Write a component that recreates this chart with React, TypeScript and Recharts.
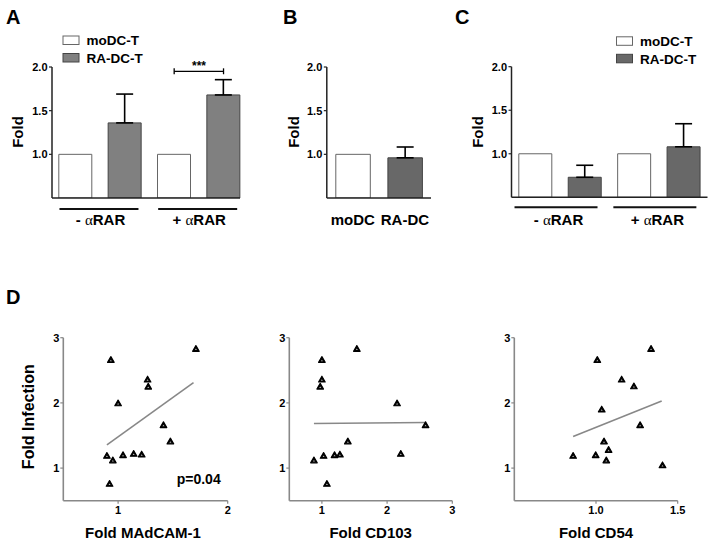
import React from 'react';
import {
  BarChart,
  Bar,
  XAxis,
  YAxis,
  Cell,
  ErrorBar,
  ReferenceLine,
  ScatterChart,
  Scatter,
} from 'recharts';

const FONT = '"Liberation Sans", Arial, Helvetica, sans-serif';
const SERIF = '"Liberation Serif", "Times New Roman", serif';

// ---------- Panel A ----------
const aCategories = ['moDC-T -αRAR', 'RA-DC-T -αRAR', 'moDC-T +αRAR', 'RA-DC-T +αRAR'];
const aValues = [1.0, 1.36, 1.0, 1.68];
const aErrors = [null, 0.33, null, 0.175];
const aGroups = ['- αRAR', '+ αRAR'];

// ---------- Panel B ----------
const bCategories = ['moDC', 'RA-DC'];
const bValues = [1.0, 0.96];
const bErrors = [null, 0.124];

// ---------- Panel C ----------
const cCategories = ['moDC-T -αRAR', 'RA-DC-T -αRAR', 'moDC-T +αRAR', 'RA-DC-T +αRAR'];
const cValues = [1.0, 0.73, 1.0, 1.08];
const cErrors = [null, 0.138, null, 0.265];
const cGroups = ['- αRAR', '+ αRAR'];

const foldTicks = [1.0, 1.5, 2.0];
const legendLabels = ['moDC-T', 'RA-DC-T'];

// ---------- Panel D ----------
const madcamX = [0.934, 1.71, 1.269, 1.275, 1.0, 1.414, 1.477, 0.898, 0.952, 1.045, 1.142, 1.215, 0.922];
const madcamY = [2.66, 2.83, 2.36, 2.25, 1.995, 1.66, 1.41, 1.19, 1.12, 1.2, 1.22, 1.21, 0.76];
const madcamFitX = [0.898, 1.688];
const madcamFitY = [1.357, 2.31];
const madcamTicks = [1, 2];

const cd103X = [1.536, 1.0, 1.0, 0.974, 2.153, 2.59, 1.398, 0.878, 1.026, 1.194, 1.276, 2.21, 1.077];
const cd103Y = [2.83, 2.66, 2.36, 2.25, 1.995, 1.66, 1.41, 1.12, 1.19, 1.2, 1.21, 1.22, 0.76];
const cd103FitX = [0.878, 2.59];
const cd103FitY = [1.684, 1.7];
const cd103Ticks = [1, 2, 3];

const cd54X = [1.337, 1.008, 1.157, 1.232, 1.035, 1.27, 1.049, 1.077, 0.998, 0.86, 1.063, 1.407];
const cd54Y = [2.83, 2.66, 2.36, 2.255, 1.9, 1.66, 1.41, 1.28, 1.2, 1.19, 1.12, 1.045];
const cd54FitX = [0.86, 1.402];
const cd54FitY = [1.485, 2.03];
const cd54Ticks = [1.0, 1.5];

const infectionTicks = [1, 2, 3];

type Rect = { x0: number; x1: number; y0: number; y1: number };

const YW = 40;
const XH = 40;

function marginsFor(left: number, top: number, width: number, height: number, plot: Rect) {
  return {
    left: plot.x0 - left - YW,
    right: left + width - plot.x1,
    top: plot.y0 - top,
    bottom: top + height - plot.y1 - XH,
  };
}

function buildBarData(cats: string[], vals: number[], errs: (number | null)[]) {
  return cats.map((name, i) => ({
    name,
    value: vals[i],
    err: errs[i] == null ? null : [0, errs[i] as number],
  }));
}

function alphaText(label: string) {
  const k = label.indexOf('α');
  return (
    <>
      <tspan>{label.slice(0, k)}</tspan>
      <tspan fontFamily={SERIF} fontWeight="normal">α</tspan>
      <tspan>{label.slice(k + 1)}</tspan>
    </>
  );
}

function makeGroupTick(labels: string[], l0: number, l1: number, ldy: number, tdx: number, tdy: number) {
  return (props: any) => {
    const { x, y } = props;
    const i = props.index ?? props.payload?.index ?? 0;
    if (i % 2 !== 0) return <g />;
    return (
      <g>
        <line x1={x + l0} x2={x + l1} y1={y + ldy} y2={y + ldy} stroke="#111" strokeWidth={2} />
        <text
          x={x + tdx}
          y={y + tdy}
          textAnchor="middle"
          fontSize={15}
          fontWeight="bold"
          fontFamily={FONT}
          fill="#000"
        >
          {alphaText(labels[i / 2])}
        </text>
      </g>
    );
  };
}

const plainTick = (props: any) => {
  const { x, y, payload } = props;
  return (
    <text x={x} y={y + 27} textAnchor="middle" fontSize={15} fontWeight="bold" fontFamily={FONT} fill="#000">
      {payload.value}
    </text>
  );
};

const tickStyle = { fontSize: 11, fontWeight: 'bold', fill: '#000', fontFamily: FONT };

type BarPanelProps = {
  left: number;
  top: number;
  width: number;
  height: number;
  plot: Rect;
  data: any[];
  fills: string[];
  strokes: string[];
  barSize: number;
  padding?: { left: number; right: number };
  tick: any;
  children?: React.ReactNode;
};

function BarPanel(p: BarPanelProps) {
  return (
    <div style={{ position: 'absolute', left: p.left, top: p.top }}>
      <BarChart width={p.width} height={p.height} data={p.data} margin={marginsFor(p.left, p.top, p.width, p.height, p.plot)}>
        <XAxis
          dataKey="name"
          height={XH}
          padding={p.padding ?? { left: 0, right: 0 }}
          tickLine={false}
          tickSize={0}
          tickMargin={0}
          axisLine={{ stroke: '#222', strokeWidth: 1.5 }}
          tick={p.tick}
          interval={0}
        />
        <YAxis
          width={YW}
          type="number"
          domain={[0.5, 2]}
          ticks={foldTicks}
          tickFormatter={(v: number) => v.toFixed(1)}
          tickSize={3}
          tickMargin={1.5}
          axisLine={{ stroke: '#222', strokeWidth: 1.5 }}
          tickLine={{ stroke: '#222', strokeWidth: 1.2 }}
          tick={tickStyle}
          allowDataOverflow
        />
        <Bar dataKey="value" barSize={p.barSize} isAnimationActive={false}>
          {p.data.map((_, i) => (
            <Cell key={i} fill={p.fills[i]} stroke={p.strokes[i]} strokeWidth={1} />
          ))}
          <ErrorBar dataKey="err" width={8.5} stroke="#000" strokeWidth={1.6} direction="y" />
        </Bar>
        {p.children}
      </BarChart>
    </div>
  );
}

const Triangle = (props: any) => {
  const { cx, cy } = props;
  if (cx == null || cy == null) return <g />;
  return (
    <g>
      <polygon
        points={`${cx},${cy - 3.2} ${cx - 3.3},${cy + 2.5} ${cx + 3.3},${cy + 2.5}`}
        fill="#000"
        stroke="#000"
        strokeWidth={1.2}
        strokeLinejoin="round"
      />
      <polygon
        points={`${cx},${cy - 0.2} ${cx - 1},${cy + 1.3} ${cx + 1},${cy + 1.3}`}
        fill="#bbb"
      />
    </g>
  );
};

type ScatterPanelProps = {
  left: number;
  top: number;
  width: number;
  height: number;
  plot: Rect;
  xs: number[];
  ys: number[];
  fitX: number[];
  fitY: number[];
  xDomain: [number, number];
  xTicks: number[];
  xFmt?: (v: number) => string;
};

function ScatterPanel(p: ScatterPanelProps) {
  const data = p.xs.map((x, i) => ({ x, y: p.ys[i] }));
  const axisStroke = { stroke: '#888', strokeWidth: 1.6 };
  return (
    <div style={{ position: 'absolute', left: p.left, top: p.top }}>
      <ScatterChart width={p.width} height={p.height} margin={marginsFor(p.left, p.top, p.width, p.height, p.plot)}>
        <XAxis
          type="number"
          dataKey="x"
          domain={p.xDomain}
          ticks={p.xTicks}
          tickFormatter={p.xFmt}
          height={XH}
          tickSize={3}
          tickMargin={2}
          axisLine={axisStroke}
          tickLine={{ stroke: '#888', strokeWidth: 1.2 }}
          tick={tickStyle}
          allowDataOverflow
        />
        <YAxis
          type="number"
          dataKey="y"
          width={YW}
          domain={[0.5, 3]}
          ticks={infectionTicks}
          tickSize={3}
          tickMargin={1}
          axisLine={axisStroke}
          tickLine={{ stroke: '#888', strokeWidth: 1.2 }}
          tick={tickStyle}
          allowDataOverflow
        />
        <ReferenceLine
          segment={[
            { x: p.fitX[0], y: p.fitY[0] },
            { x: p.fitX[1], y: p.fitY[1] },
          ]}
          stroke="#888"
          strokeWidth={1.6}
        />
        <Scatter data={data} shape={Triangle} isAnimationActive={false} />
      </ScatterChart>
    </div>
  );
}

function Legend({ x, y, fill, stroke }: { x: number; y: number; fill: string; stroke: string }) {
  return (
    <g fontFamily={FONT} fontWeight="bold" fontSize={13.5} fill="#000">
      <rect x={x} y={y} width={16} height={8.5} fill="#fff" stroke="#666" strokeWidth={1} />
      <text x={x + 23.5} y={y + 9.3}>
        {legendLabels[0]}
      </text>
      <rect x={x} y={y + 17.5} width={16} height={8.5} fill={fill} stroke={stroke} strokeWidth={1} />
      <text x={x + 23.5} y={y + 26.8}>
        {legendLabels[1]}
      </text>
    </g>
  );
}

function RotLabel({ cx, cy, size, text }: { cx: number; cy: number; size: number; text: string }) {
  return (
    <text
      x={cx}
      y={cy + size * 0.36}
      transform={`rotate(-90 ${cx} ${cy})`}
      textAnchor="middle"
      fontSize={size}
      fontWeight="bold"
      fontFamily={FONT}
      fill="#000"
    >
      {text}
    </text>
  );
}

export default function App() {
  const aData = buildBarData(aCategories, aValues, aErrors);
  const bData = buildBarData(bCategories, bValues, bErrors);
  const cData = buildBarData(cCategories, cValues, cErrors);
  const greyA = '#808080';
  const greyBC = '#686868';
  const whiteStroke = '#666';
  const greyStroke = '#444';

  return (
    <div style={{ position: 'absolute', left: 0, top: 0, width: 714, height: 544, background: '#fff', fontFamily: FONT }}>
      <BarPanel
        left={0}
        top={0}
        width={250}
        height={250}
        plot={{ x0: 52, x1: 240, y0: 67, y1: 198 }}
        data={aData}
        fills={['#fff', greyA, '#fff', greyA]}
        strokes={[whiteStroke, greyStroke, whiteStroke, greyStroke]}
        barSize={33}
        padding={{ left: -1.2, right: -8.2 }}
        tick={makeGroupTick(aGroups, -16, 63, 11, 25, 27)}
      >
        <ReferenceLine
          segment={[
            { x: aCategories[2], y: 1.951 },
            { x: aCategories[3], y: 1.951 },
          ]}
          stroke="#000"
          strokeWidth={1.3}
        />
        <ReferenceLine
          segment={[
            { x: aCategories[2], y: 1.985 },
            { x: aCategories[2], y: 1.917 },
          ]}
          stroke="#000"
          strokeWidth={1.3}
        />
        <ReferenceLine
          segment={[
            { x: aCategories[3], y: 1.985 },
            { x: aCategories[3], y: 1.917 },
          ]}
          stroke="#000"
          strokeWidth={1.3}
        />
      </BarPanel>

      <BarPanel
        left={240}
        top={0}
        width={200}
        height={250}
        plot={{ x0: 326.8, x1: 431, y0: 67, y1: 198 }}
        data={bData}
        fills={['#fff', greyBC]}
        strokes={[whiteStroke, greyStroke]}
        barSize={34.5}
        tick={plainTick}
      />

      <BarPanel
        left={460}
        top={0}
        width={254}
        height={250}
        plot={{ x0: 511.5, x1: 707.5, y0: 66.7, y1: 197.3 }}
        data={cData}
        fills={['#fff', greyBC, '#fff', greyBC]}
        strokes={[whiteStroke, greyStroke, whiteStroke, greyStroke]}
        barSize={33}
        padding={{ left: -0.7, right: -1 }}
        tick={makeGroupTick(cGroups, -21, 62, 10, 23, 27.5)}
      />

      <ScatterPanel
        left={0}
        top={300}
        width={240}
        height={244}
        plot={{ x0: 63.3, x1: 227.7, y0: 337.7, y1: 500.7 }}
        xs={madcamX}
        ys={madcamY}
        fitX={madcamFitX}
        fitY={madcamFitY}
        xDomain={[0.5, 2]}
        xTicks={madcamTicks}
      />
      <ScatterPanel
        left={240}
        top={300}
        width={230}
        height={244}
        plot={{ x0: 289.3, x1: 452.3, y0: 337.7, y1: 500.7 }}
        xs={cd103X}
        ys={cd103Y}
        fitX={cd103FitX}
        fitY={cd103FitY}
        xDomain={[0.5, 3]}
        xTicks={cd103Ticks}
      />
      <ScatterPanel
        left={470}
        top={300}
        width={244}
        height={244}
        plot={{ x0: 514.3, x1: 677.7, y0: 337.7, y1: 500.7 }}
        xs={cd54X}
        ys={cd54Y}
        fitX={cd54FitX}
        fitY={cd54FitY}
        xDomain={[0.5, 1.5]}
        xTicks={cd54Ticks}
        xFmt={(v: number) => v.toFixed(1)}
      />

      <svg
        width={714}
        height={544}
        style={{ position: 'absolute', left: 0, top: 0, pointerEvents: 'none' }}
      >
        <g fontFamily={FONT} fontWeight="bold" fontSize={20} fill="#000">
          <text x={6} y={23.5}>A</text>
          <text x={283} y={23.5}>B</text>
          <text x={455} y={23.5}>C</text>
          <text x={6} y={303.5}>D</text>
        </g>
        <Legend x={63} y={36} fill={greyA} stroke={greyStroke} />
        <Legend x={616.5} y={36.8} fill={greyBC} stroke={greyStroke} />
        <text x={199} y={70} textAnchor="middle" fontSize={12} fontWeight="bold" fontFamily={FONT} fill="#000">
          ***
        </text>
        <RotLabel cx={17.5} cy={132} size={15} text="Fold" />
        <RotLabel cx={293.5} cy={132} size={15} text="Fold" />
        <RotLabel cx={477.5} cy={132} size={15} text="Fold" />
        <RotLabel cx={28.3} cy={416.7} size={16} text="Fold Infection" />
        <g fontFamily={FONT} fontWeight="bold" fontSize={15} fill="#000" textAnchor="middle">
          <text x={143} y={537.5}>Fold MAdCAM-1</text>
          <text x={370.7} y={537.5}>Fold CD103</text>
          <text x={596} y={537.5}>Fold CD54</text>
        </g>
        <text x={176.7} y={484} fontSize={14} fontWeight="bold" fontFamily={FONT} fill="#000">
          p=0.04
        </text>
      </svg>
    </div>
  );
}
